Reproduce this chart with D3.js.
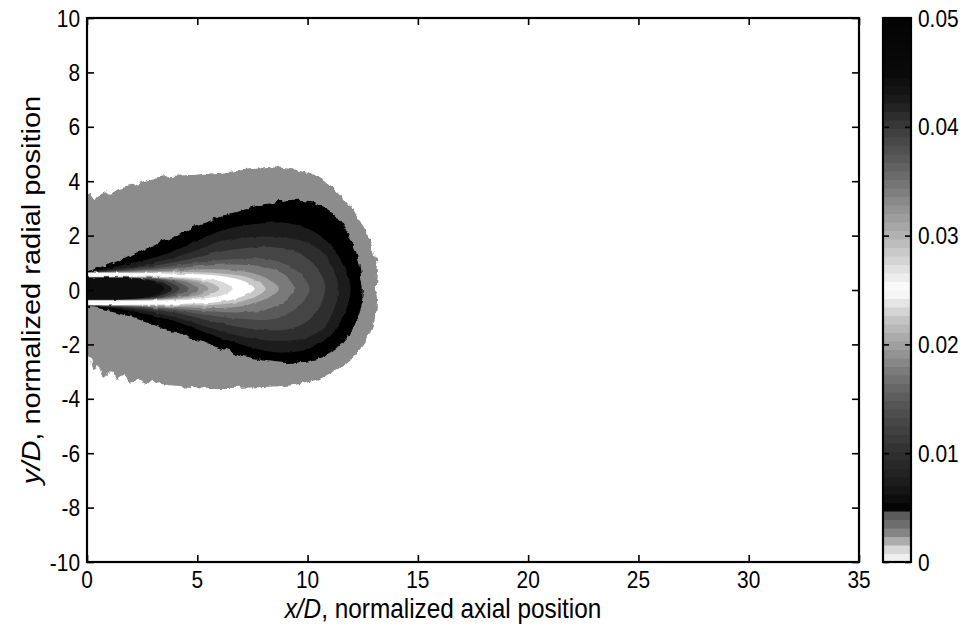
<!DOCTYPE html>
<html>
<head>
<meta charset="utf-8">
<script src="https://cdn.jsdelivr.net/npm/d3@7"></script>
<style>
  body { margin: 0; background: #ffffff; }
  text { font-family: "Liberation Sans", Arial, sans-serif; fill: #000; }
</style>
</head>
<body>
<svg id="chart" width="974" height="631"></svg>
<script>
// ---- axes ----
const xTicks = [0, 5, 10, 15, 20, 25, 30, 35];
const yTicks = [-10, -8, -6, -4, -2, 0, 2, 4, 6, 8, 10];
const cbTicks = [0, 0.01, 0.02, 0.03, 0.04, 0.05];

// ---- grey colormap (value -> grey level 0..255) ----
const cmapValues = [0, 0.0012, 0.0025, 0.0038, 0.0045, 0.0046, 0.0075, 0.01, 0.0125, 0.015,
                    0.0175, 0.02, 0.0225, 0.025, 0.0275, 0.03, 0.0325, 0.035, 0.0375, 0.04,
                    0.0425, 0.045, 0.05];
const cmapGrays  = [250, 215, 140, 100, 88, 0, 30, 46, 68, 90,
                    122, 160, 200, 255, 216, 178, 146, 114, 84, 58,
                    26, 10, 4];

// ---- outer contour levels: outlines as [x/D, y/D] ----
const outerLevels = [0.0025, 0.005];
const outlineL0025 = [
  [0,3.55],[0.2,3.6],[0.35,3.25],[0.5,3.4],[0.8,3.55],[1.1,3.6],[1.5,3.72],[1.8,3.8],[2.2,3.9],
  [2.6,4.0],[3,4.1],[3.5,4.18],[4,4.2],[4.5,4.22],[5,4.25],[5.5,4.28],[6,4.3],[6.5,4.35],[7,4.4],
  [7.5,4.45],[8,4.48],[8.5,4.5],[9,4.48],[9.5,4.42],[10,4.3],[10.5,4.12],[11,3.85],[11.5,3.45],
  [12,3.0],[12.4,2.5],[12.7,2.05],[12.95,1.6],[13.1,1.1],[13.15,0.6],[13.1,0.1],[13.15,-0.4],
  [13.1,-0.9],[12.95,-1.35],[12.7,-1.8],[12.3,-2.25],[11.8,-2.7],[11.2,-3.0],[10.6,-3.25],
  [10,-3.4],[9.3,-3.5],[8.5,-3.55],[7.5,-3.58],[6.5,-3.6],[5.5,-3.6],[4.5,-3.55],[3.8,-3.5],
  [3.3,-3.45],[3,-3.3],[2.7,-3.45],[2.3,-3.3],[2,-3.4],[1.7,-3.1],[1.4,-3.3],[1.1,-3.0],
  [0.8,-3.2],[0.5,-2.8],[0.3,-2.9],[0.15,-2.45],[0,-2.4]
];
const outlineL005 = [
  [0,0.70],[0.3,0.75],[0.7,0.88],[1,0.95],[1.5,1.1],[2,1.3],[2.3,1.38],[2.6,1.5],[3,1.62],
  [3.4,1.78],[3.8,1.9],[4.2,2.1],[4.6,2.22],[5,2.35],[5.5,2.5],[6,2.68],[6.5,2.85],[7,2.95],
  [7.5,3.05],[8,3.15],[8.5,3.22],[9,3.3],[9.5,3.32],[10,3.28],[10.4,3.2],[10.8,3.05],[11.2,2.8],
  [11.6,2.42],[11.9,2.0],[12.15,1.5],[12.35,0.95],[12.45,0.4],[12.5,0],[12.45,-0.5],[12.3,-0.95],
  [12.1,-1.35],[11.8,-1.75],[11.4,-2.1],[10.9,-2.4],[10.4,-2.55],[9.8,-2.65],[9,-2.68],
  [8.2,-2.62],[7.5,-2.5],[7,-2.4],[6.5,-2.25],[6,-2.12],[5.5,-1.98],[5,-1.85],[4.5,-1.7],
  [4,-1.55],[3.5,-1.4],[3,-1.25],[2.5,-1.1],[2,-0.97],[1.5,-0.85],[1,-0.75],[0.5,-0.67],[0,-0.62]
];

// ---- inner contour levels: rows of [x/D, upper y/D, lower y/D], last row is the tip on the axis ----
const ringLevels = [0.0075, 0.01, 0.0125, 0.015, 0.0175, 0.02, 0.0225, 0.025,
                    0.0275, 0.03, 0.0325, 0.035, 0.0375, 0.04, 0.0425, 0.045];
const ringL0075 = [[0,.66,-.585],[1,.8,-.64],[2,.98,-.76],[3,1.18,-.95],[4,1.45,-1.15],[5,1.8,-1.45],[6,2.15,-1.75],[7,2.35,-2.0],[8,2.45,-2.22],[9,2.47,-2.3],[10,2.25,-2.17],[10.8,1.85,-1.82],[11.4,1.25,-1.28],[11.8,.62,-.6],[11.95,.05,.05]];
const ringL0100 = [[0,.655,-.58],[1,.73,-.62],[2,.85,-.69],[3,1.0,-.82],[4,1.2,-1.0],[5,1.47,-1.24],[6,1.78,-1.5],[7,1.9,-1.7],[8,1.96,-1.84],[9,1.92,-1.87],[10,1.74,-1.75],[10.7,1.38,-1.42],[11.1,.88,-.9],[11.35,.35,-.3],[11.4,.05,.05]];
const ringL0125 = [[0,.65,-.575],[1,.7,-.6],[2,.78,-.65],[3,.89,-.72],[4,1.03,-.84],[5,1.2,-1.02],[6,1.41,-1.22],[7,1.53,-1.38],[8,1.59,-1.47],[9,1.52,-1.46],[9.8,1.27,-1.25],[10.4,.85,-.82],[10.7,.4,-.33],[10.8,.05,.05]];
const ringL0150 = [[0,.645,-.57],[1,.68,-.59],[2,.73,-.62],[3,.8,-.67],[4,.9,-.75],[5,1.0,-.87],[6,1.1,-.98],[7,1.15,-1.06],[8,1.16,-1.1],[8.8,1.02,-1.0],[9.5,.72,-.68],[9.95,.32,-.25],[10.1,.05,.05]];
const ringL0175 = [[0,.64,-.565],[1,.665,-.58],[2,.7,-.6],[3,.74,-.64],[4,.8,-.68],[5,.87,-.75],[6,.93,-.8],[7,.93,-.82],[8,.86,-.74],[8.8,.62,-.5],[9.2,.35,-.22],[9.4,.05,.05]];
const ringL0200 = [[0,.635,-.56],[1,.65,-.57],[2,.665,-.58],[3,.69,-.6],[4,.72,-.62],[5,.75,-.65],[6,.76,-.66],[7,.7,-.6],[7.8,.55,-.42],[8.4,.3,-.2],[8.7,.05,.05]];
const ringL0225 = [[0,.63,-.555],[1,.64,-.56],[2,.645,-.56],[3,.655,-.565],[4,.66,-.57],[5,.65,-.565],[6,.62,-.53],[7,.52,-.42],[7.7,.32,-.22],[8.1,.05,.05]];
const ringL0250 = [[0,.625,-.55],[1,.625,-.55],[2,.62,-.54],[3,.615,-.53],[4,.6,-.52],[5,.58,-.5],[6,.52,-.44],[6.8,.4,-.3],[7.3,.25,-.15],[7.6,.05,.05]];
const ringL0275 = [[0,.50,-.40],[1,.50,-.40],[2,.50,-.40],[3,.50,-.40],[4,.48,-.38],[5,.44,-.34],[5.8,.36,-.26],[6.3,.24,-.14],[6.6,.05,.05]];
const ringL0300 = [[0,.48,-.38],[1,.48,-.38],[2,.48,-.38],[3,.47,-.37],[4,.44,-.34],[4.8,.39,-.29],[5.5,.29,-.19],[6.0,.05,.05]];
const ringL0325 = [[0,.47,-.37],[1,.47,-.37],[2,.47,-.37],[3,.45,-.35],[4,.41,-.31],[4.7,.34,-.24],[5.2,.24,-.14],[5.5,.05,.05]];
const ringL0350 = [[0,.46,-.36],[1,.46,-.36],[2,.46,-.36],[3,.44,-.34],[3.8,.39,-.29],[4.5,.3,-.2],[5.05,.05,.05]];
const ringL0375 = [[0,.455,-.355],[1,.455,-.355],[2,.45,-.35],[3,.42,-.32],[3.7,.36,-.26],[4.2,.26,-.16],[4.6,.05,.05]];
const ringL0400 = [[0,.45,-.35],[1,.45,-.35],[2,.44,-.34],[3,.4,-.3],[3.6,.32,-.22],[4.2,.05,.05]];
const ringL0425 = [[0,.445,-.345],[1,.445,-.345],[2,.43,-.33],[2.8,.38,-.28],[3.4,.28,-.18],[3.85,.05,.05]];
const ringL0450 = [[0,.44,-.34],[1,.44,-.34],[2,.42,-.32],[2.7,.36,-.26],[3.2,.25,-.15],[3.5,.05,.05]];
const ringProfiles = [ringL0075, ringL0100, ringL0125, ringL0150, ringL0175, ringL0200, ringL0225, ringL0250,
                      ringL0275, ringL0300, ringL0325, ringL0350, ringL0375, ringL0400, ringL0425, ringL0450];

// ---- layout ----
const plot = { left: 87, top: 18, right: 859, bottom: 562 };
const bar  = { left: 883, right: 911 };
const textSqueeze = 0.87;   // lettering is set slightly condensed

const svg = d3.select("#chart");
const x = d3.scaleLinear().domain([0, 35]).range([plot.left, plot.right]);
const y = d3.scaleLinear().domain([-10, 10]).range([plot.bottom, plot.top]);
const grayScale = d3.scaleLinear().domain(cmapValues).range(cmapGrays).clamp(true);
const cmap = v => { const g = Math.round(grayScale(v)); return d3.rgb(g, g, g).toString(); };

const defs = svg.append("defs");
defs.append("clipPath").attr("id", "plotClip")
  .append("rect").attr("x", plot.left).attr("y", plot.top)
  .attr("width", plot.right - plot.left).attr("height", plot.bottom - plot.top);

// ragged edges of the measured field
function roughFilter(id, freq, scale, seed) {
  const f = defs.append("filter").attr("id", id)
    .attr("filterUnits", "userSpaceOnUse").attr("x", 0).attr("y", 0).attr("width", 974).attr("height", 631);
  f.append("feTurbulence").attr("type", "fractalNoise").attr("baseFrequency", freq)
    .attr("numOctaves", 3).attr("seed", seed).attr("result", "noise");
  f.append("feDisplacementMap").attr("in", "SourceGraphic").attr("in2", "noise")
    .attr("scale", scale).attr("xChannelSelector", "R").attr("yChannelSelector", "G");
}
roughFilter("roughOuter", 0.12, 7, 4);
roughFilter("roughInner", 0.1, 3, 7);

const field = svg.append("g").attr("clip-path", "url(#plotClip)");
const closedCurve = d3.line().x(d => x(d[0])).y(d => y(d[1])).curve(d3.curveCatmullRomClosed.alpha(0.5));

// outline points extended past the left edge so the fill runs under the axis
function extendLeft(pts) {
  const first = pts[0], last = pts[pts.length - 1];
  return [[-0.8, first[1]], ...pts, [-0.8, last[1]]];
}

const outerG = field.append("g").attr("filter", "url(#roughOuter)");
[outlineL0025, outlineL005].forEach((pts, i) => {
  outerG.append("path").attr("d", closedCurve(extendLeft(pts))).attr("fill", cmap(outerLevels[i]));
});

const innerG = field.append("g").attr("filter", "url(#roughInner)");
ringProfiles.forEach((rows, i) => {
  const upper = rows.map(r => [r[0], r[1]]);
  const lower = rows.slice(0, -1).map(r => [r[0], r[2]]).reverse();
  innerG.append("path").attr("d", closedCurve(extendLeft(upper.concat(lower))))
    .attr("fill", cmap(ringLevels[i]));
});

// ---- text helper: condensed lettering anchored at (px, py) ----
function label(parent, px, py, txt, anchor, size) {
  return parent.append("text")
    .attr("transform", `translate(${px},${py}) scale(${textSqueeze},1)`)
    .attr("text-anchor", anchor).attr("font-size", size).text(txt);
}

// ---- axes box & ticks (ticks point inward on all four sides) ----
const tickLen = 7;
const styleTicks = g => {
  g.select(".domain").remove();
  g.selectAll(".tick text").remove();
  g.selectAll(".tick line").attr("stroke", "#000").attr("stroke-width", 1.6);
};
svg.append("g").attr("transform", `translate(0,${plot.bottom})`)
  .call(d3.axisBottom(x).tickValues(xTicks).tickSize(-tickLen)).call(styleTicks);
svg.append("g").attr("transform", `translate(0,${plot.top})`)
  .call(d3.axisTop(x).tickValues(xTicks).tickSize(-tickLen)).call(styleTicks);
svg.append("g").attr("transform", `translate(${plot.left},0)`)
  .call(d3.axisLeft(y).tickValues(yTicks).tickSize(-tickLen)).call(styleTicks);
svg.append("g").attr("transform", `translate(${plot.right},0)`)
  .call(d3.axisRight(y).tickValues(yTicks).tickSize(-tickLen)).call(styleTicks);
svg.append("rect").attr("x", plot.left).attr("y", plot.top)
  .attr("width", plot.right - plot.left).attr("height", plot.bottom - plot.top)
  .attr("fill", "none").attr("stroke", "#000").attr("stroke-width", 2.2);

const tickLabels = svg.append("g");
xTicks.forEach(v => label(tickLabels, x(v), plot.bottom + 26, String(v), "middle", 24));
yTicks.forEach(v => label(tickLabels, plot.left - 7, y(v) + 8.5, String(v), "end", 24));

// ---- axis titles ----
const xTitle = label(svg, 443, 618, "", "middle", 28);
xTitle.append("tspan").attr("font-style", "italic").text("x/D");
xTitle.append("tspan").text(", normalized axial position");
const yTitle = svg.append("text")
  .attr("transform", `translate(40,290) scale(${textSqueeze},1) rotate(-90)`)
  .attr("text-anchor", "middle").attr("font-size", 29);
yTitle.append("tspan").attr("font-style", "italic").text("y/D");
yTitle.append("tspan").text(", normalized radial position");

// ---- colorbar ----
const cb = d3.scaleLinear().domain([0, 0.05]).range([plot.bottom, plot.top]);
const nBands = 64;
const bands = d3.range(nBands).map(i => ({ lo: i * 0.05 / nBands, hi: (i + 1) * 0.05 / nBands }));
svg.append("g").selectAll("rect").data(bands).join("rect")
  .attr("x", bar.left).attr("width", bar.right - bar.left)
  .attr("y", d => cb(d.hi)).attr("height", d => cb(d.lo) - cb(d.hi) + 0.5)
  .attr("fill", d => cmap((d.lo + d.hi) / 2));
svg.append("g").attr("transform", `translate(${bar.right},0)`)
  .call(d3.axisRight(cb).tickValues(cbTicks).tickSize(-6)).call(styleTicks);
svg.append("g").attr("transform", `translate(${bar.left},0)`)
  .call(d3.axisLeft(cb).tickValues(cbTicks).tickSize(-6)).call(styleTicks);
svg.append("rect").attr("x", bar.left).attr("y", plot.top)
  .attr("width", bar.right - bar.left).attr("height", plot.bottom - plot.top)
  .attr("fill", "none").attr("stroke", "#000").attr("stroke-width", 2.2);
const cbFormat = d3.format("~g");
cbTicks.forEach(v => label(tickLabels, bar.right + 7, cb(v) + 8.5, cbFormat(v), "start", 24));
</script>
</body>
</html>
